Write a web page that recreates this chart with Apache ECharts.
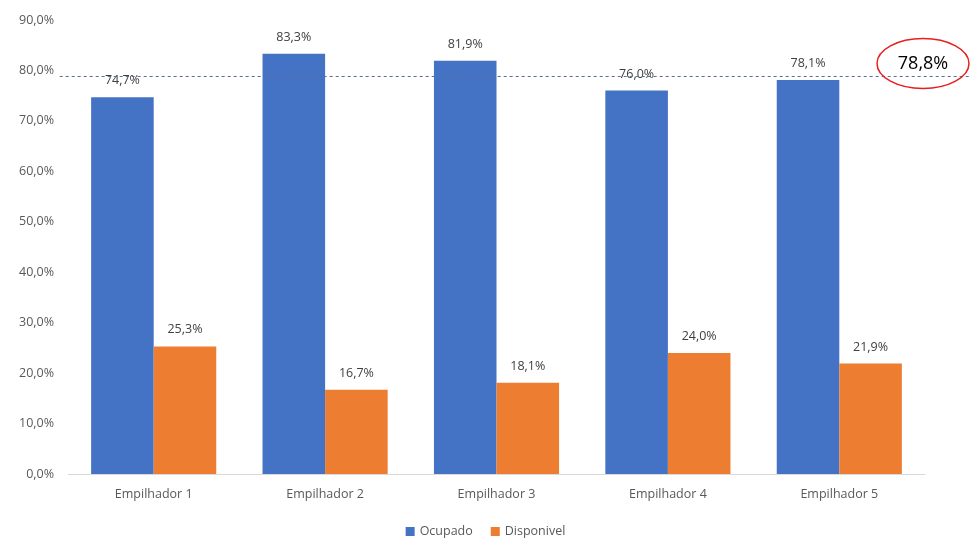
<!DOCTYPE html>
<html>
<head>
<meta charset="utf-8">
<script src="https://cdn.jsdelivr.net/npm/echarts@6/dist/echarts.min.js"></script>
<style>html,body{margin:0;padding:0;background:#fff}#c{width:971px;height:540px}</style>
</head>
<body>
<div id="c"></div>
<script>
const categories = ['Empilhador 1', 'Empilhador 2', 'Empilhador 3', 'Empilhador 4', 'Empilhador 5'];
const ocupado = [74.7, 83.3, 81.9, 76.0, 78.1];
const disponivel = [25.3, 16.7, 18.1, 24.0, 21.9];
const mediaOcupado = 78.8;

const fmt = v => v.toFixed(1).replace('.', ',') + '%';
const FONT = '"Open Sans", "Noto Sans", sans-serif';

const chart = echarts.init(document.getElementById('c'), null, { renderer: 'canvas' });

const labelStyle = {
  show: true, position: 'top', distance: 10,
  color: '#404040', fontSize: 12.5, fontFamily: FONT,
  formatter: p => fmt(p.value)
};

chart.setOption({
  animation: false,
  backgroundColor: '#ffffff',
  grid: { left: 68, right: 46, top: 20, bottom: 66 },
  legend: {
    top: 520, left: 'center',
    itemWidth: 9, itemHeight: 9, itemGap: 18,
    icon: 'rect',
    textStyle: { color: '#595959', fontSize: 12.5, fontFamily: FONT },
    data: ['Ocupado', 'Disponivel']
  },
  xAxis: {
    type: 'category', data: categories,
    axisLine: { lineStyle: { color: '#d9d9d9' } },
    axisTick: { show: false },
    axisLabel: { color: '#595959', fontSize: 12.5, fontFamily: FONT, margin: 14 }
  },
  yAxis: {
    type: 'value', min: 0, max: 90, interval: 10,
    splitLine: { show: false },
    axisLine: { show: false },
    axisTick: { show: false },
    axisLabel: { color: '#595959', fontSize: 12.5, fontFamily: FONT, margin: 14,
      formatter: v => v.toFixed(1).replace('.', ',') + '%' }
  },
  series: [
    { name: 'Ocupado', type: 'bar', data: ocupado, barGap: '0%', barCategoryGap: '27%',
      itemStyle: { color: '#4472c4' }, label: labelStyle },
    { name: 'Disponivel', type: 'bar', data: disponivel,
      itemStyle: { color: '#ed7d31' }, label: labelStyle }
  ]
});

// Average reference line and highlighted value
const y = chart.convertToPixel({ yAxisIndex: 0 }, mediaOcupado);
const x0 = chart.convertToPixel({ xAxisIndex: 0 }, categories[0]) - 94;
const cx = 923, cy = y - 13;
chart.setOption({
  graphic: [
    { type: 'line', shape: { x1: x0, y1: y, x2: 971, y2: y },
      style: { stroke: '#5a6f9a', lineWidth: 1, lineDash: [3, 3] }, z: 10 },
    { type: 'ellipse', shape: { cx: cx, cy: cy, rx: 46, ry: 25 },
      style: { fill: 'rgba(0,0,0,0)', stroke: '#e81e1e', lineWidth: 1.5 }, z: 11 },
    { type: 'text', x: cx, y: cy,
      style: { text: fmt(mediaOcupado), fill: '#000000', fontSize: 18, fontFamily: FONT,
        align: 'center', verticalAlign: 'middle' }, z: 12 }
  ]
});
</script>
</body>
</html>
